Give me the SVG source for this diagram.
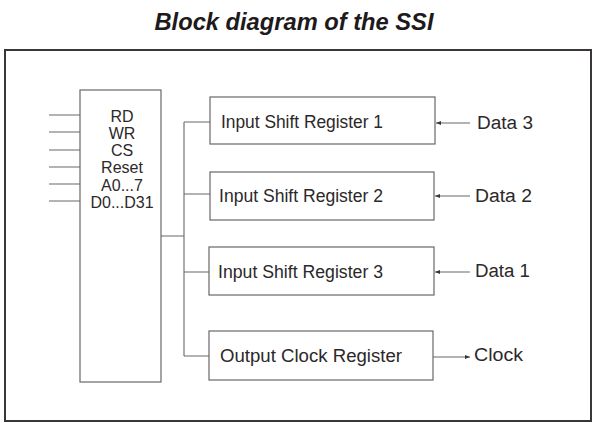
<svg xmlns="http://www.w3.org/2000/svg" width="595" height="423" viewBox="0 0 595 423">
<defs>
<style>
.frame{fill:none;stroke:#3a3536;stroke-width:2}
.box{fill:#fff;stroke:#6a6668;stroke-width:1.2}
.ln{fill:none;stroke:#6a6668;stroke-width:1.1}
.t{font-family:"Liberation Sans",Arial,sans-serif;font-size:18px;fill:#2c2829}
.s{font-family:"Liberation Sans",Arial,sans-serif;font-size:16px;fill:#2c2829;text-anchor:middle}
.title{font-family:"Liberation Sans",Arial,sans-serif;font-size:23px;font-weight:bold;font-style:italic;fill:#1e1a1b;text-anchor:middle}
</style>
<marker id="ah" markerWidth="6" markerHeight="6" refX="5" refY="3" orient="auto" markerUnits="userSpaceOnUse">
<path d="M0,1 L5,3 L0,5 Z" fill="#3a3536"/>
</marker>
</defs>
<rect width="595" height="423" fill="#fff"/>
<text class="title" x="294" y="30" textLength="279" lengthAdjust="spacingAndGlyphs">Block diagram of the SSI</text>
<rect class="frame" x="5" y="50" width="586" height="371"/>

<g id="ctrl">
<rect class="box" x="80" y="90" width="81" height="292"/>
<text class="s" x="122" y="122">RD</text>
<text class="s" x="122" y="139">WR</text>
<text class="s" x="122" y="156">CS</text>
<text class="s" x="122" y="173">Reset</text>
<text class="s" x="122" y="191">A0...7</text>
<text class="s" x="122" y="208">D0...D31</text>
</g>
<g id="isr1">
<rect class="box" x="210" y="97" width="225" height="47"/>
<text class="t" x="221" y="128" textLength="162" lengthAdjust="spacingAndGlyphs">Input Shift Register 1</text>
</g>
<g id="isr2">
<rect class="box" x="210" y="172" width="224" height="48"/>
<text class="t" x="219" y="202" textLength="164" lengthAdjust="spacingAndGlyphs">Input Shift Register 2</text>
</g>
<g id="isr3">
<rect class="box" x="209" y="247" width="225" height="48"/>
<text class="t" x="218" y="278" textLength="165" lengthAdjust="spacingAndGlyphs">Input Shift Register 3</text>
</g>
<g id="ocr">
<rect class="box" x="209" y="331" width="224" height="49"/>
<text class="t" x="220" y="362" textLength="182" lengthAdjust="spacingAndGlyphs">Output Clock Register</text>
</g>
<g id="labels">
<text class="t" x="477" y="129" textLength="56" lengthAdjust="spacingAndGlyphs">Data 3</text>
<text class="t" x="475" y="202" textLength="57" lengthAdjust="spacingAndGlyphs">Data 2</text>
<text class="t" x="475" y="277" textLength="55" lengthAdjust="spacingAndGlyphs">Data 1</text>
<text class="t" x="474" y="361" textLength="49" lengthAdjust="spacingAndGlyphs">Clock</text>
</g>
<g id="connectors">
<path class="ln" d="M49,115H80M49,132H80M49,150H80M49,167H80M49,184H80M49,201H80"/>
<path class="ln" d="M161,236H184M184,122V356M184,122H210M184,194H210M184,272H209M184,356H209"/>
<path class="ln" d="M470,123H436" marker-end="url(#ah)"/>
<path class="ln" d="M470,196H435" marker-end="url(#ah)"/>
<path class="ln" d="M470,272H435" marker-end="url(#ah)"/>
<path class="ln" d="M433,357H470" marker-end="url(#ah)"/>
</g>
</svg>
